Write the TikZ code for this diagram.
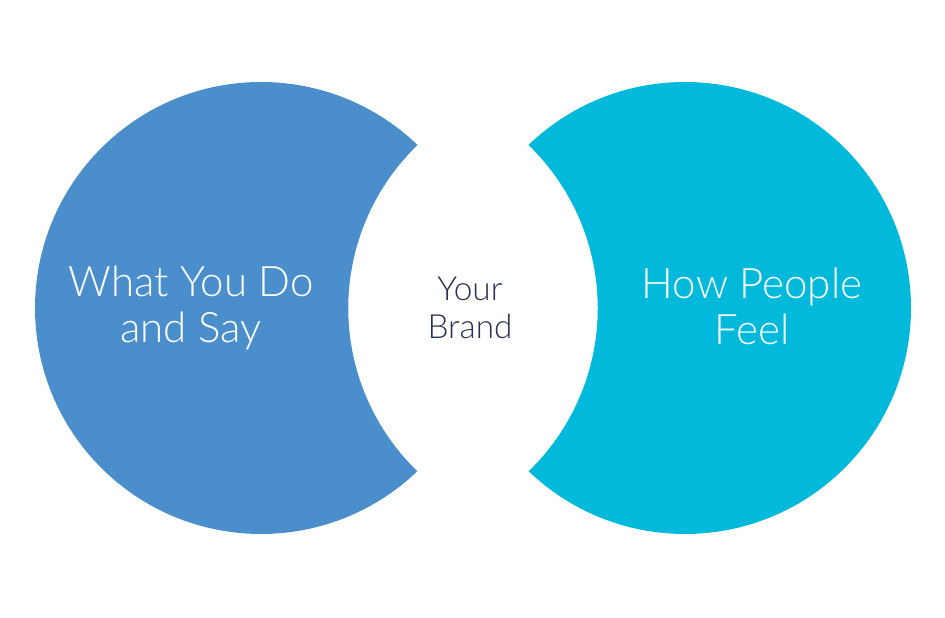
\documentclass[tikz,border=0pt]{standalone}
\usepackage{fontspec}
\setmainfont{Lato}[UprightFont={* Light}]
\definecolor{leftblue}{HTML}{4A8FCB}
\definecolor{rightcyan}{HTML}{00B9DB}
\definecolor{brandnavy}{HTML}{2B3252}
\begin{document}
\begin{tikzpicture}[x=0.75pt,y=0.75pt,
  bigtext/.style={text=white,align=center,font=\fontsize{31.5}{34.5}\selectfont,inner sep=0pt},
  midtext/.style={text=brandnavy,align=center,font=\fontsize{25}{29}\selectfont,inner sep=0pt}]
\useasboundingbox (0,0) rectangle (945,617);
% left crescent
\fill[leftblue] (261,309) ++(46.25:226)
  arc[start angle=46.25, end angle=313.75, radius=226]
  arc[start angle=225.9, end angle=134.1, radius=227] -- cycle;
% right crescent
\fill[rightcyan] (685,309) ++(133.75:226)
  arc[start angle=133.75, end angle=-133.75, radius=226]
  arc[start angle=-45.9, end angle=45.9, radius=227] -- cycle;
\node[bigtext] (left) at (191,309) {What You Do\\and Say};
\node[bigtext] (right) at (752,311) {How People\\Feel};
\node[midtext] (mid) at (470,309) {Your\\Brand};
\end{tikzpicture}
\end{document}
